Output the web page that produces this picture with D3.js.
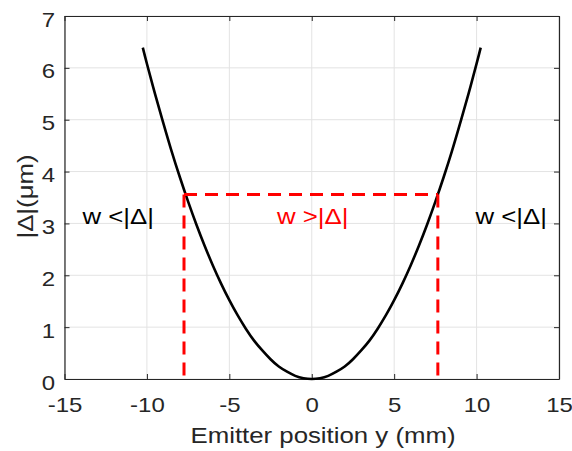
<!DOCTYPE html>
<html>
<head>
<meta charset="utf-8">
<script src="https://cdn.jsdelivr.net/npm/d3@7"></script>
<style>
body { margin: 0; background: #fff; }
text { font-family: "Liberation Sans", Arial, sans-serif; }
</style>
</head>
<body>
<div id="chart"></div>
<script>
// emitter position (mm) and |Delta| (um)
var posX = [-10.25, -10, -9.5, -9, -8.5, -8, -7.5, -7, -6.5, -6, -5.5, -5, -4.5, -4, -3.5, -3, -2.5, -2, -1.5, -1, -0.5, 0,
            0.5, 1, 1.5, 2, 2.5, 3, 3.5, 4, 4.5, 5, 5.5, 6, 6.5, 7, 7.5, 8, 8.5, 9, 9.5, 10, 10.25];
var delta = [6.39, 6.08, 5.49, 4.93, 4.39, 3.89, 3.42, 2.98, 2.57, 2.19, 1.84, 1.52, 1.23, 0.97, 0.74, 0.55, 0.38, 0.24, 0.14, 0.06, 0.015, 0,
             0.015, 0.06, 0.14, 0.24, 0.38, 0.55, 0.74, 0.97, 1.23, 1.52, 1.84, 2.19, 2.57, 2.98, 3.42, 3.89, 4.39, 4.93, 5.49, 6.08, 6.39];

// red dashed boundary
var boundX = [-7.75, 7.65];
var boundY = 3.56;

var xTicks = [-15, -10, -5, 0, 5, 10, 15];
var yTicks = [0, 1, 2, 3, 4, 5, 6, 7];

var w = 572, h = 451;
var mLeft = 64.5, mRight = 559, mTop = 16, mBottom = 379;
var stretch = 1.2; // the reference font is wider than Arial

var svg = d3.select("#chart").append("svg")
    .attr("width", w)
    .attr("height", h);

var x = d3.scaleLinear().domain([-15, 15]).range([mLeft, mRight]);
var y = d3.scaleLinear().domain([0, 7]).range([mBottom, mTop]);

// grid
svg.append("g").selectAll("line")
    .data(xTicks)
    .enter().append("line")
    .attr("x1", function(d){ return x(d); })
    .attr("x2", function(d){ return x(d); })
    .attr("y1", mTop).attr("y2", mBottom)
    .attr("stroke", "#e3e3e3").attr("stroke-width", 1);
svg.append("g").selectAll("line")
    .data(yTicks)
    .enter().append("line")
    .attr("y1", function(d){ return y(d); })
    .attr("y2", function(d){ return y(d); })
    .attr("x1", mLeft).attr("x2", mRight)
    .attr("stroke", "#e3e3e3").attr("stroke-width", 1);

// axes (ticks inward)
var axColor = "#262626";
var plain = function(d){ return String(d); };
var gx = svg.append("g").attr("transform", "translate(0," + mBottom + ")")
    .call(d3.axisBottom(x).tickValues(xTicks).tickFormat(plain).tickSizeInner(-5).tickSizeOuter(0));
var gxTop = svg.append("g").attr("transform", "translate(0," + mTop + ")")
    .call(d3.axisTop(x).tickValues(xTicks).tickSizeInner(-5).tickSizeOuter(0).tickFormat(""));
var gy = svg.append("g").attr("transform", "translate(" + mLeft + ",0)")
    .call(d3.axisLeft(y).tickValues(yTicks).tickFormat(plain).tickSizeInner(-5).tickSizeOuter(0));
var gyRight = svg.append("g").attr("transform", "translate(" + mRight + ",0)")
    .call(d3.axisRight(y).tickValues(yTicks).tickSizeInner(-5).tickSizeOuter(0).tickFormat(""));

[gx, gxTop, gy, gyRight].forEach(function(g){
    g.selectAll("path").attr("stroke", axColor).attr("stroke-width", 1.2);
    g.selectAll("line").attr("stroke", axColor);
    g.selectAll("text")
        .attr("fill", axColor)
        .attr("x", null).attr("y", null).attr("dy", null)
        .style("font-size", "20px")
        .style("font-family", "'Liberation Sans', Arial, sans-serif");
});
gx.selectAll("text").attr("transform", "translate(0,32.5) scale(" + stretch + ",1)");
gy.selectAll("text").attr("transform", "translate(-9.5,10) scale(" + stretch + ",1)");

// curve
var pts = posX.map(function(d, i){ return [d, delta[i]]; });
var line = d3.line()
    .x(function(d){ return x(d[0]); })
    .y(function(d){ return y(d[1]); })
    .curve(d3.curveNatural);

svg.append("path")
    .datum(pts)
    .attr("d", line)
    .attr("fill", "none")
    .attr("stroke", "#000")
    .attr("stroke-width", 2.6);

// red dashed region
var red = "#ff0000";
svg.append("line")
    .attr("x1", x(boundX[0])).attr("x2", x(boundX[1]))
    .attr("y1", y(boundY)).attr("y2", y(boundY))
    .attr("stroke", red).attr("stroke-width", 3)
    .attr("stroke-dasharray", "13,8");
boundX.forEach(function(bx){
    svg.append("line")
        .attr("x1", x(bx)).attr("x2", x(bx))
        .attr("y1", y(boundY)).attr("y2", y(0))
        .attr("stroke", red).attr("stroke-width", 3)
        .attr("stroke-dasharray", "13,8");
});

// annotations
function label(txt, tx, ty, size, fill, anchor, rot){
    svg.append("text").text(txt)
        .attr("transform", "translate(" + tx + "," + ty + ")" + (rot ? " rotate(" + rot + ")" : "") +
              " scale(" + stretch + ",1)")
        .attr("text-anchor", anchor || "start")
        .attr("fill", fill)
        .style("font-size", size + "px");
}
label("w <|Δ|", 82.5, 224, 21.5, "#000");
label("w <|Δ|", 475.5, 224, 21.5, "#000");
label("w >|Δ|", 277, 224, 21.5, red);

// axis labels
label("Emitter position y (mm)", 323, 443, 21.5, axColor, "middle");
label("|Δ|(μm)", 33, 196.5, 21.5, axColor, "middle", -90);
</script>
</body>
</html>
